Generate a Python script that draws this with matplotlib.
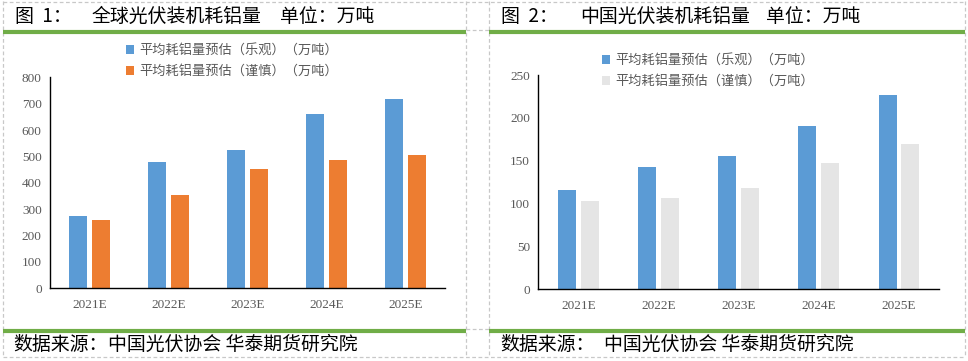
import numpy as np
import matplotlib
matplotlib.use("Agg")
import matplotlib.pyplot as plt
from matplotlib.lines import Line2D

plt.rcParams['font.family'] = ['Noto Sans CJK SC', 'DejaVu Sans']

W, H = 968, 361

years = ['2021E', '2022E', '2023E', '2024E', '2025E']
legend_labels = ['平均耗铝量预估（乐观）（万吨）', '平均耗铝量预估（谨慎）（万吨）']

# global (left)
global_opt = [274, 479, 524, 661, 718]
global_cau = [259, 354, 452, 486, 505]

# china (right)
china_opt = [116, 143, 155.5, 190.5, 226.5]
china_cau = [103, 106.5, 118, 147.5, 169.5]

BLUE = '#5B9BD5'
ORANGE = '#ED7D31'
GREY = '#E5E5E5'
GREEN = '#70AD47'
DASH = '#C8C8C8'
TXT = '#595959'

fig = plt.figure(figsize=(W / 100, H / 100), dpi=100)


def fx(x):
    return x / W


def fy(y):
    return 1 - y / H


def hline(x0, x1, y, **kw):
    fig.add_artist(Line2D([fx(x0), fx(x1)], [fy(y), fy(y)], transform=fig.transFigure, **kw))


def vline(x, y0, y1, **kw):
    fig.add_artist(Line2D([fx(x), fx(x)], [fy(y0), fy(y1)], transform=fig.transFigure, **kw))


dash_kw = dict(color=DASH, lw=0.9, linestyle=(0, (3, 2)))

# table grid (dashed cell borders)
for x in (3, 466, 489, 965):
    vline(x, 1, 357, **dash_kw)
hline(3, 965, 1.5, **dash_kw)
hline(466, 489, 30, **dash_kw)
hline(466, 489, 329, **dash_kw)
hline(3, 965, 357, **dash_kw)

# green rules
for x0, x1 in ((3, 466), (489, 965)):
    hline(x0, x1, 32, color=GREEN, lw=3.0, solid_capstyle='butt')
    hline(x0, x1, 331, color=GREEN, lw=3.0, solid_capstyle='butt')

# titles
tfs = 13.6
fig.text(fx(15), fy(16), '图  1：', fontsize=tfs, va='center', ha='left')
fig.text(fx(92), fy(16), '全球光伏装机耗铝量', fontsize=tfs, va='center', ha='left')
fig.text(fx(280), fy(16), '单位：万吨', fontsize=tfs, va='center', ha='left')
fig.text(fx(501), fy(16), '图  2：', fontsize=tfs, va='center', ha='left')
fig.text(fx(580), fy(16), '中国光伏装机耗铝量', fontsize=tfs, va='center', ha='left')
fig.text(fx(766), fy(16), '单位：万吨', fontsize=tfs, va='center', ha='left')

# footnotes
fig.text(fx(13), fy(344), '数据来源：', fontsize=tfs, va='center', ha='left')
fig.text(fx(108), fy(344), '中国光伏协会 华泰期货研究院', fontsize=tfs, va='center', ha='left')
fig.text(fx(500), fy(344), '数据来源：', fontsize=tfs, va='center', ha='left')
fig.text(fx(604), fy(344), '中国光伏协会 华泰期货研究院', fontsize=tfs, va='center', ha='left')


def panel(x0, x1, ytop, ybot, s1, s2, c2, ymax, step, leg_x, leg_y):
    ax = fig.add_axes([fx(x0), fy(ybot), fx(x1) - fx(x0), (ybot - ytop) / H])
    x = np.arange(len(years))
    w = 0.225
    b1 = ax.bar(x - 0.142, s1, w, color=BLUE)
    b2 = ax.bar(x + 0.142, s2, w, color=c2)
    ax.set_xlim(-0.5, len(years) - 0.5)
    ax.set_ylim(0, ymax)
    ax.set_yticks(np.arange(0, ymax + 1, step))
    ax.set_xticks(x)
    ax.set_xticklabels(years)
    for s in ('top', 'right'):
        ax.spines[s].set_visible(False)
    for s in ('left', 'bottom'):
        ax.spines[s].set_color('black')
        ax.spines[s].set_linewidth(1.0)
    ax.tick_params(axis='both', length=0, labelsize=9.5, labelcolor=TXT)
    ax.tick_params(axis='y', pad=6)
    ax.tick_params(axis='x', pad=8)
    for lab in ax.get_xticklabels() + ax.get_yticklabels():
        lab.set_family(['Liberation Serif', 'DejaVu Serif'])
    leg = fig.legend([b1, b2], legend_labels, loc='upper left',
                     bbox_to_anchor=(fx(leg_x), fy(leg_y)), frameon=False,
                     fontsize=9.5, handlelength=0.62, handleheight=0.62,
                     handletextpad=0.4, labelspacing=0.62, borderpad=0,
                     borderaxespad=0)
    for t in leg.get_texts():
        t.set_color(TXT)
    return ax


panel(50, 445, 77.3, 288.3, global_opt, global_cau, ORANGE, 800, 100, 126, 44)
panel(538.3, 939, 75, 289.3, china_opt, china_cau, GREY, 250, 50, 602, 54)

fig.savefig('out.png', dpi=100)
